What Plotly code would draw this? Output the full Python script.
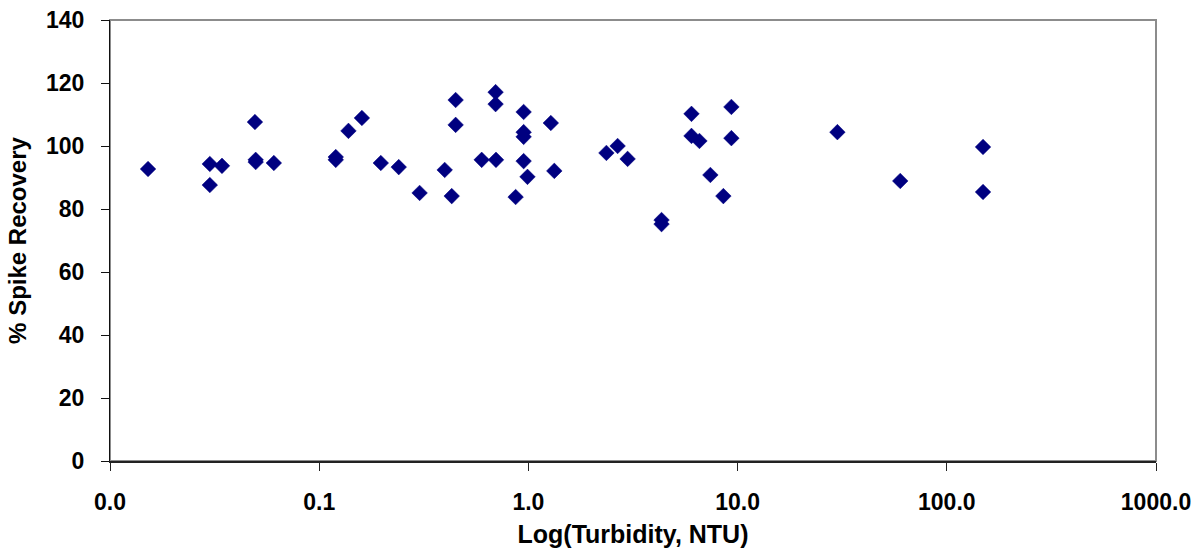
import plotly.graph_objects as go

turbidity_ntu = [
    0.0152, 0.030, 0.030, 0.0343, 0.0493, 0.0497, 0.0497, 0.0607,
    0.120, 0.120, 0.138, 0.160, 0.197, 0.240, 0.302, 0.398, 0.430,
    0.449, 0.449, 0.598, 0.697, 0.697, 0.700, 0.869,
    0.949, 0.949, 0.949, 0.949, 0.990, 1.28, 1.33,
    2.36, 2.67, 2.98, 4.33, 4.33, 6.02, 6.02, 6.57, 7.41, 8.55,
    9.34, 9.34, 30.0, 59.9, 149.0, 149.0,
]
spike_recovery = [
    92.7, 94.3, 87.6, 93.7, 107.6, 95.6, 94.9, 94.6,
    96.5, 95.6, 104.8, 108.9, 94.6, 93.3, 85.1, 92.4, 84.1,
    114.6, 106.7, 95.6, 117.1, 113.3, 95.6, 83.8,
    110.8, 104.4, 102.9, 95.2, 90.2, 107.3, 92.1,
    97.8, 100.0, 95.9, 76.5, 75.2, 110.2, 103.2, 101.6, 90.8, 84.1,
    112.4, 102.5, 104.4, 88.9, 99.7, 85.4,
]
x_tick_vals = [0.01, 0.1, 1, 10, 100, 1000]
x_tick_text = ["0.0", "0.1", "1.0", "10.0", "100.0", "1000.0"]
y_tick_vals = [0, 20, 40, 60, 80, 100, 120, 140]

font_family = "Liberation Sans, Arial, sans-serif"

fig = go.Figure()
fig.add_trace(go.Scatter(
    x=turbidity_ntu, y=spike_recovery, mode="markers",
    marker=dict(symbol="diamond", size=12, color="#000080",
                line=dict(color="#000080", width=0.5)),
    showlegend=False, cliponaxis=False,
))

fig.add_shape(type="rect", xref="paper", yref="paper", x0=0, x1=1, y0=0, y1=1,
              line=dict(color="#8c8c8c", width=2), layer="below")

fig.update_layout(
    width=1199, height=558,
    margin=dict(l=110, r=43, t=20, b=97),
    paper_bgcolor="white", plot_bgcolor="white",
    font=dict(family=font_family, size=23, color="black"),
    xaxis=dict(
        type="log", range=[-2, 3], automargin=False,
        tickvals=x_tick_vals, ticktext=x_tick_text,
        showgrid=False, zeroline=False,
        showline=True, linecolor="#222222", linewidth=2,
        ticks="outside", ticklen=8, tickcolor="#222222", tickwidth=1,
        ticklabelstandoff=11,
        tickfont=dict(family=font_family, size=23, color="black", weight="bold"),
        title=dict(text="<b>Log(Turbidity, NTU)</b>", standoff=12,
                   font=dict(family=font_family, size=25, color="black")),
    ),
    yaxis=dict(
        range=[0, 140], tickvals=y_tick_vals, automargin=False,
        showgrid=False, zeroline=False,
        showline=True, linecolor="#111111", linewidth=1,
        ticks="outside", ticklen=8, tickcolor="#111111", tickwidth=1,
        ticklabelstandoff=12,
        tickfont=dict(family=font_family, size=23, color="black", weight="bold"),
        title=dict(text="<b>% Spike Recovery</b>", standoff=12,
                   font=dict(family=font_family, size=24, color="black")),
    ),
)

fig.write_html("out.html")
